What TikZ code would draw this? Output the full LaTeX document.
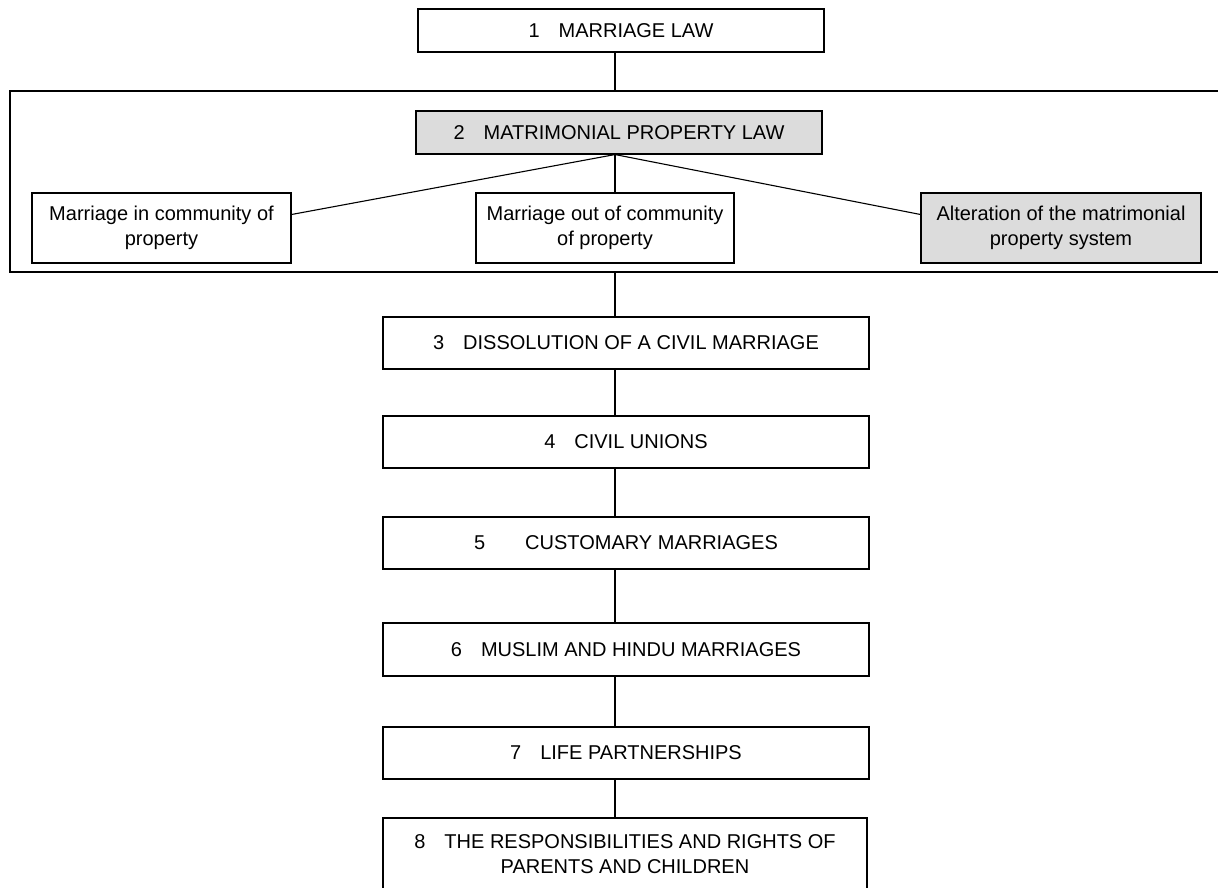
\documentclass[tikz,border=0pt]{standalone}
\usepackage{fontspec}
\setmainfont{Liberation Sans}
\usetikzlibrary{calc}
\definecolor{boxgray}{RGB}{220,220,220}
\newcommand{\numgap}{\hspace{0.95em}}
\begin{document}
\begin{tikzpicture}[x=1pt,y=-1pt,
  box/.style={draw=black, line width=1.1pt, fill=white, inner sep=0pt,
    align=center, font=\fontsize{20}{25}\selectfont},
  shaded/.style={box, fill=boxgray},
  link/.style={draw=black, line width=1.1pt}]
\useasboundingbox (0,0) rectangle (1218,888);

% common vertical axis of the chain
\coordinate (spine) at (615,0);

% frame round the matrimonial property group (runs off to the right)
\coordinate (ftop) at (615,91);
\coordinate (fbot) at (615,272);
\draw[link] (1218,91) -- (10,91) -- (10,272) -- (1218,272);

% main chain
\node[box, minimum width=406, minimum height=43] (law) at (621,30.5)
  {1\numgap MARRIAGE LAW};
\node[shaded, minimum width=406, minimum height=43] (mpl) at (619,132.5)
  {2\numgap MATRIMONIAL PROPERTY LAW};

% matrimonial property regimes
\node[box, minimum width=259, minimum height=70] (incom) at (161.5,228)
  {Marriage in community of\\property};
\node[box, minimum width=258, minimum height=70] (outcom) at (605,228)
  {Marriage out of community\\of property};
\node[shaded, minimum width=280, minimum height=70] (alter) at (1061,228)
  {Alteration of the matrimonial\\property system};

\node[box, minimum width=486, minimum height=52] (dissol) at (626,343)
  {3\numgap DISSOLUTION OF A CIVIL MARRIAGE};
\node[box, minimum width=486, minimum height=52] (civil) at (626,442)
  {4\numgap CIVIL UNIONS};
\node[box, minimum width=486, minimum height=52] (custom) at (626,543)
  {5\hspace{2em}CUSTOMARY MARRIAGES};
\node[box, minimum width=486, minimum height=53] (muslim) at (626,649.5)
  {6\numgap MUSLIM AND HINDU MARRIAGES};
\node[box, minimum width=486, minimum height=52] (life) at (626,753)
  {7\numgap LIFE PARTNERSHIPS};
\node[box, minimum width=484, minimum height=72] (parents) at (625,854)
  {8\numgap THE RESPONSIBILITIES AND RIGHTS OF\\PARENTS AND CHILDREN};

% connectors
\draw[link] (law.south -| spine) -- (ftop);
\draw[link] (mpl.south -| spine) -- ($(incom.north east)!0.31!(incom.south east)$);
\draw[link] (mpl.south -| spine) -- (outcom.north -| spine);
\draw[link] (mpl.south -| spine) -- ($(alter.north west)!0.31!(alter.south west)$);
\draw[link] (fbot) -- (dissol.north -| spine);
\draw[link] (dissol.south -| spine) -- (civil.north -| spine);
\draw[link] (civil.south -| spine) -- (custom.north -| spine);
\draw[link] (custom.south -| spine) -- (muslim.north -| spine);
\draw[link] (muslim.south -| spine) -- (life.north -| spine);
\draw[link] (life.south -| spine) -- (parents.north -| spine);
\end{tikzpicture}
\end{document}
